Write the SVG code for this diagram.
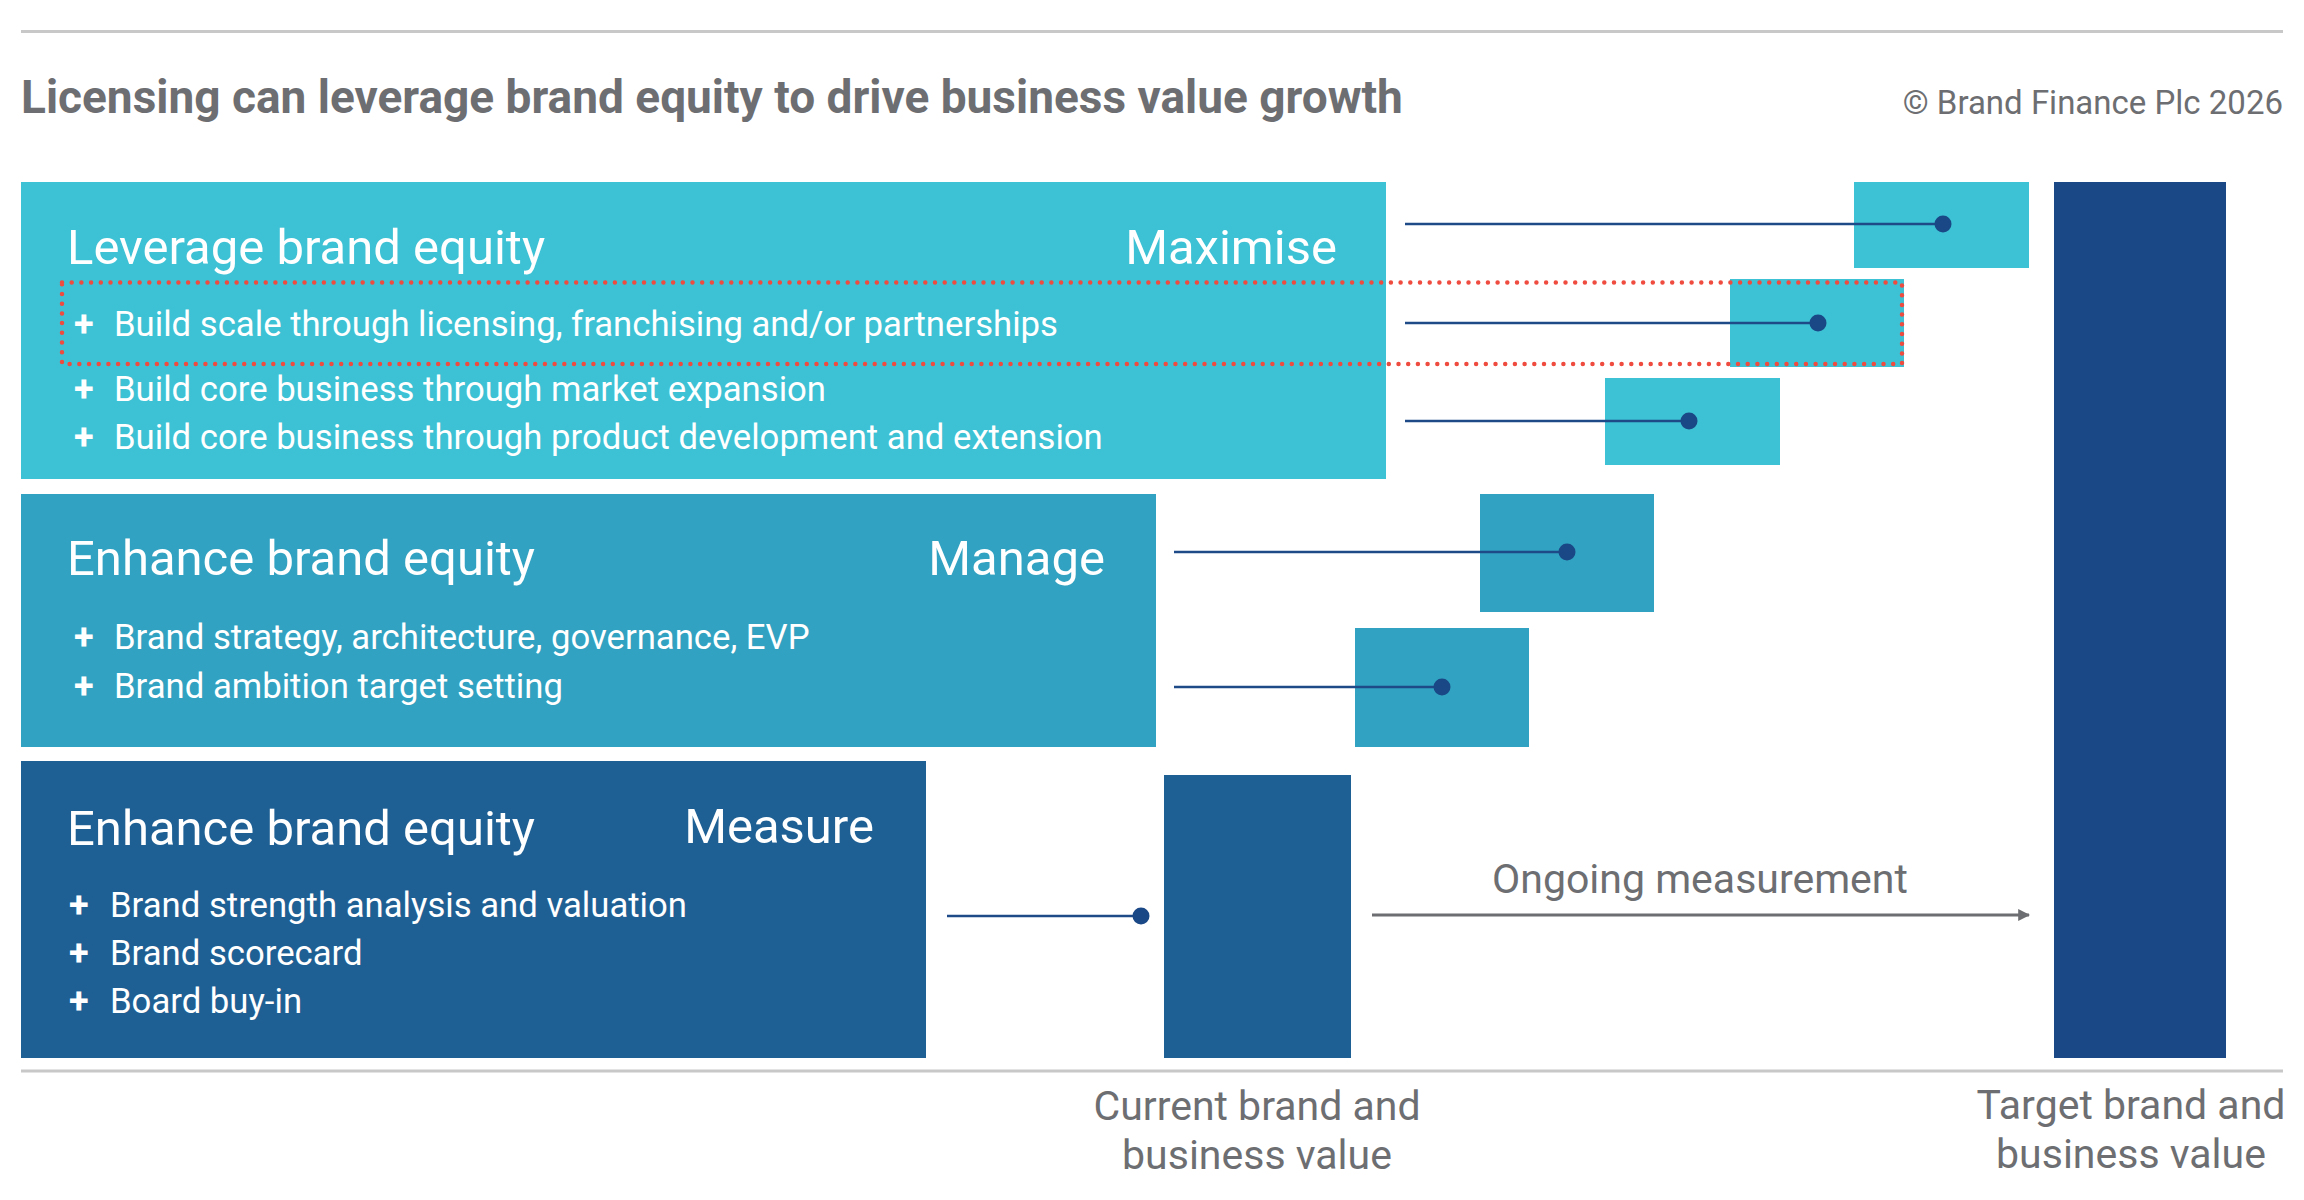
<svg xmlns="http://www.w3.org/2000/svg" width="2304" height="1200" viewBox="0 0 2304 1200">
<defs>
<style>
text{font-family:Roboto,"Liberation Sans",sans-serif}
.title{font-size:46px;font-weight:700;fill:#6d6e71}
.copy{font-size:33px;fill:#6d6e71}
.head{font-size:49px;fill:#ffffff}
.item{font-size:34.7px;fill:#ffffff}
.plus{font-size:36px;font-weight:700;fill:#ffffff}
.lbl{font-size:41px;fill:#6d6e71}
.rule{stroke:#c8c8c8;stroke-width:3}
.conn{stroke:#1f4a88;stroke-width:2.5;fill:none}
.dot{fill:#1a4785}
.c1{fill:#3dc1d4}
.c2{fill:#31a2c1}
.c3{fill:#1f6094}
.c4{fill:#1a4786}
</style>
<marker id="arr" viewBox="0 0 10 10" refX="9" refY="5" markerWidth="4" markerHeight="4" orient="auto" markerUnits="strokeWidth">
<path d="M0,0 L10,5 L0,10 z" fill="#6d6e71"/>
</marker>
</defs>
<rect width="2304" height="1200" fill="#ffffff"/>
<line class="rule" x1="21" y1="31.5" x2="2283" y2="31.5"/>
<text class="title" x="21" y="113">Licensing can leverage brand equity to drive business value growth</text>
<text class="copy" x="2283" y="114" text-anchor="end">© Brand Finance Plc 2026</text>

<g id="maximise">
<rect class="c1" x="21" y="182" width="1365" height="297"/>
<text class="head" x="67" y="264">Leverage brand equity</text>
<text class="head" x="1337" y="264" text-anchor="end">Maximise</text>
<text class="plus" x="74" y="336">+</text><text class="item" x="114" y="336">Build scale through licensing, franchising and/or partnerships</text>
<text class="plus" x="74" y="401">+</text><text class="item" x="114" y="401">Build core business through market expansion</text>
<text class="plus" x="74" y="449">+</text><text class="item" x="114" y="449">Build core business through product development and extension</text>
</g>
<g id="manage">
<rect class="c2" x="21" y="494" width="1135" height="253"/>
<text class="head" x="67" y="575">Enhance brand equity</text>
<text class="head" x="1105" y="575" text-anchor="end">Manage</text>
<text class="plus" x="74" y="649">+</text><text class="item" x="114" y="649">Brand strategy, architecture, governance, EVP</text>
<text class="plus" x="74" y="698">+</text><text class="item" x="114" y="698">Brand ambition target setting</text>
</g>
<g id="measure">
<rect class="c3" x="21" y="761" width="905" height="297"/>
<text class="head" x="67" y="845">Enhance brand equity</text>
<text class="head" x="874" y="843" text-anchor="end">Measure</text>
<text class="plus" x="69" y="917">+</text><text class="item" x="110" y="917">Brand strength analysis and valuation</text>
<text class="plus" x="69" y="965">+</text><text class="item" x="110" y="965">Brand scorecard</text>
<text class="plus" x="69" y="1013">+</text><text class="item" x="110" y="1013">Board buy-in</text>
</g>

<g id="step-a"><rect class="c1" x="1854" y="182" width="175" height="86"/></g>
<g id="step-b"><rect class="c1" x="1730" y="279" width="174" height="88"/></g>
<g id="step-c"><rect class="c1" x="1605" y="378" width="175" height="87"/></g>
<g id="step-d"><rect class="c2" x="1480" y="494" width="174" height="118"/></g>
<g id="step-e"><rect class="c2" x="1355" y="628" width="174" height="119"/></g>
<g id="current"><rect class="c3" x="1164" y="775" width="187" height="283"/>
<text class="lbl" x="1257" y="1120" text-anchor="middle">Current brand and</text>
<text class="lbl" x="1257" y="1169" text-anchor="middle">business value</text>
</g>
<g id="target"><rect class="c4" x="2054" y="182" width="172" height="876"/>
<text class="lbl" x="2131" y="1119" text-anchor="middle">Target brand and</text>
<text class="lbl" x="2131" y="1168" text-anchor="middle">business value</text>
</g>

<g id="connectors">
<line class="conn" x1="1405" y1="224" x2="1943" y2="224"/><circle class="dot" cx="1943" cy="224" r="8.5"/>
<line class="conn" x1="1405" y1="323" x2="1818" y2="323"/><circle class="dot" cx="1818" cy="323" r="8.5"/>
<line class="conn" x1="1405" y1="421" x2="1689" y2="421"/><circle class="dot" cx="1689" cy="421" r="8.5"/>
<line class="conn" x1="1174" y1="552" x2="1567" y2="552"/><circle class="dot" cx="1567" cy="552" r="8.5"/>
<line class="conn" x1="1174" y1="687" x2="1442" y2="687"/><circle class="dot" cx="1442" cy="687" r="8.5"/>
<line class="conn" x1="947" y1="916" x2="1141" y2="916"/><circle class="dot" cx="1141" cy="916" r="8.5"/>
<line x1="1372" y1="915" x2="2029" y2="915" stroke="#6d6e71" stroke-width="3" marker-end="url(#arr)"/>
<text class="lbl" x="1700" y="893" text-anchor="middle">Ongoing measurement</text>
</g>

<rect x="62" y="282.5" width="1840" height="81.5" fill="none" stroke="#ef4b3f" stroke-width="4.5" stroke-dasharray="0 9.7" stroke-linecap="round"/>
<line class="rule" x1="21" y1="1071" x2="2283" y2="1071"/>
</svg>
